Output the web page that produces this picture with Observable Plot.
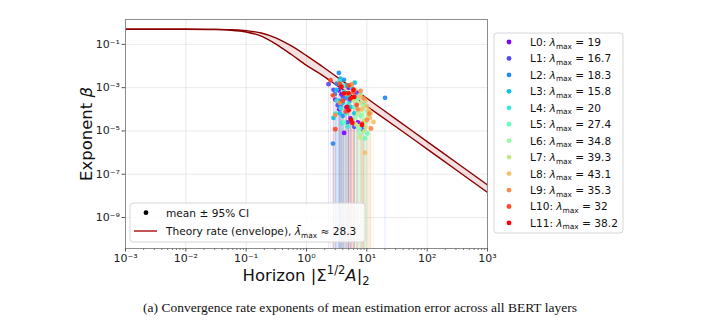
<!DOCTYPE html>
<html><head><meta charset="utf-8">
<script src="https://cdn.jsdelivr.net/npm/d3@7"></script>
<script src="https://cdn.jsdelivr.net/npm/@observablehq/plot@0.6"></script>
<style>
body{margin:0;background:#fff;width:720px;}
#chart{width:720px;height:290px;}
#caption{font-family:"Liberation Serif","Times New Roman",serif;font-size:13.5px;text-align:center;margin-top:10px;color:#111;line-height:16px;}
</style></head><body>
<div id="chart"></div>
<div id="caption">(a) Convergence rate exponents of mean estimation error across all BERT layers</div>
<script>
// ---- data ----
const layerNames = ["L0","L1","L2","L3","L4","L5","L6","L7","L8","L9","L10","L11"];
const layerLambda = [19, 16.7, 18.3, 15.8, 20, 27.4, 34.8, 39.3, 43.1, 35.3, 32, 38.2];
const layerColors = ["#8000ff","#5148fc","#238af5","#0cc1e8","#3ae8d7","#68fcc1","#97fca7","#c5e88a","#f3c16a","#ff8a48","#ff4824","#ff0000"];
const lambdaBar = 28.3;

const theoryHorizon = [1e-3, 3.16e-3, 1e-2, 3.16e-2, 5.62e-2, 0.1, 0.178, 0.316, 0.562, 1, 1.78, 3.16, 5.62, 10, 31.6, 100, 316, 1000];
const theoryUpper  = [0.5, 0.5, 0.499, 0.492, 0.476, 0.432, 0.336, 0.196, 0.0847, 0.0303, 0.0100, 3.21e-3, 1.02e-3, 3.23e-4, 3.23e-5, 3.23e-6, 3.23e-7, 3.23e-8];
const theoryLower  = [0.5, 0.5, 0.498, 0.483, 0.451, 0.372, 0.239, 0.100, 0.0339, 0.0107, 3.89e-3, 1.29e-3, 4.27e-4, 1.38e-4, 1.45e-5, 1.45e-6, 1.45e-7, 1.45e-8];

const layerHorizon = [
  [3.0,4.2,5.4,8.7,3.4,3.8,4.6,5.0,3.5,7.1],
  [2.32,6.76,6.2,3.3,2.8,4.0,4.8,3.7,8.9,5.2],
  [3.44,4.17,3.16,20,3.55,2.75,3.68,2.95,4.47,4.0],
  [3.68,6.3,6.2,3.55,3.16,5.0,4.0,2.8,4.5,5.4],
  [3.9,4.47,3.16,3.55,4.17,5.0,3.0,5.6,4.8,3.7],
  [9.3,10.2,7.1,7.9,4.17,6.3,8.9,5.0,7.6,4.0],
  [7.7,7.7,8.3,6.8,8.9,9.5,6.3,7.9,10,7.2],
  [7.7,8.9,9.5,7.1,7.9,10.5,6.6,8.5,6.0,9.1],
  [10.7,11.5,12.9,9.3,9.5,10,7.6,11.2,8.3,6.3],
  [11.7,3.0,5.6,8.9,10,4.47,7.1,3.55,7.9,11],
  [3.55,2.75,3.0,8.3,2.5,5.0,4.0,6.0,4.47,6.8],
  [4.17,5.0,5.4,6.2,4.73,5.0,5.5,5.75,6.0,3.8,8.3]
];
const layerBeta = [
  [2.8e-4,8.1e-6,3.8e-5,1.2e-5,7.6e-4,5.0e-4,1.26e-4,1.0e-3,1.0e-4,2.5e-5],
  [1.45e-3,5.9e-4,1.55e-5,1.55e-4,7.9e-4,4.0e-4,2.5e-5,1.1e-3,1.35e-5,2.5e-4],
  [4.8e-3,2.3e-3,1.55e-3,3.4e-4,2.45e-4,2.6e-6,1.3e-4,5e-4,3.2e-4,5e-5],
  [2.6e-3,1.7e-3,6.5e-5,6.5e-5,7.9e-4,4e-4,2e-4,4e-5,1.26e-3,1.26e-4],
  [2.35e-5,6.5e-5,2.5e-4,2.0e-3,6.3e-4,1.8e-4,6.3e-5,1e-3,1.6e-5,1.1e-4],
  [4.5e-6,7.6e-6,3.2e-4,5e-5,2.5e-5,1.26e-4,1.6e-4,5e-4,1.26e-5,1.26e-3],
  [9e-5,7.6e-6,5.4e-5,2.5e-4,1.4e-4,2.5e-5,4e-5,5e-4,7.9e-5,1.6e-5],
  [5e-6,3.2e-5,1.55e-5,6.3e-5,2e-4,5e-5,2e-5,1.1e-4,2.5e-4,1e-5],
  [9e-5,6.5e-5,2.6e-5,9.8e-7,2.5e-4,1.4e-4,4e-4,4e-5,1e-4,7.9e-4],
  [1.3e-5,5.4e-5,1.4e-3,3.2e-4,3.2e-5,5e-4,1e-4,2e-4,7e-4,6.3e-5],
  [1.55e-3,4.4e-4,1.2e-5,2.2e-5,2.2e-3,1.26e-3,2.5e-4,6.3e-4,7.9e-5,1.6e-4],
  [5.5e-4,5.5e-4,3.2e-4,3.7e-4,1.3e-4,9e-5,3.2e-5,2.35e-5,8.1e-4,1.1e-3,1.9e-5]
];

const xTicks = [1e-3, 1e-2, 1e-1, 1, 10, 100, 1000];
const xTickLabels = ["10\u207B\u00B3","10\u207B\u00B2","10\u207B\u00B9","10\u2070","10\u00B9","10\u00B2","10\u00B3"];
const yTicks = [1e-9, 1e-7, 1e-5, 1e-3, 1e-1];
const yTickLabels = ["10\u207B\u2079","10\u207B\u2077","10\u207B\u2075","10\u207B\u00B3","10\u207B\u00B9"];

// ---- build tables ----
const theory = theoryHorizon.map((h, i) => ({h, hi: theoryUpper[i], lo: theoryLower[i]}));
const points = [];
layerHorizon.forEach((hs, li) => hs.forEach((h, j) => points.push({h, b: layerBeta[li][j], c: layerColors[li]})));
const xMinor = [];
for (let e = -3; e < 3; e++) for (let m = 2; m <= 9; m++) xMinor.push(m * Math.pow(10, e));
const xFmt = new Map(xTicks.map((t, i) => [t, xTickLabels[i]]));
const yFmt = new Map(yTicks.map((t, i) => [t, yTickLabels[i]]));

const yMin = 3.7e-11, yMax = 1.41;
const W = 720, H = 290, mL = 125, mR = 233, mT = 19, mB = 42;

const plot = Plot.plot({
  width: W, height: H, marginLeft: mL, marginRight: mR, marginTop: mT, marginBottom: mB,
  x: {type: "log", domain: [1e-3, 1e3]},
  y: {type: "log", domain: [yMin, yMax]},
  color: {type: "identity"},
  style: {fontFamily: "DejaVu Sans", fontSize: "11px", color: "#222", background: "white", overflow: "visible"},
  marks: [
    Plot.gridX(xTicks, {stroke: "#e4e4e4", strokeOpacity: 1, strokeWidth: 0.8}),
    Plot.gridY(yTicks, {stroke: "#e4e4e4", strokeOpacity: 1, strokeWidth: 0.8}),
    Plot.ruleX(points, {x: "h", y1: yMin, y2: "b", stroke: "c", strokeOpacity: 0.14, strokeWidth: 1, clip: true}),
    Plot.areaY(theory, {x: "h", y1: "lo", y2: "hi", fill: "#a01010", fillOpacity: 0.13, curve: "monotone-x", clip: true}),
    Plot.line(theory, {x: "h", y: "hi", stroke: "#8b0000", strokeWidth: 1.4, curve: "monotone-x", clip: true}),
    Plot.line(theory, {x: "h", y: "lo", stroke: "#8b0000", strokeWidth: 1.4, curve: "monotone-x", clip: true}),
    Plot.dot(points, {x: "h", y: "b", r: 2.4, fill: "c", fillOpacity: 0.92, stroke: null}),
    Plot.frame({stroke: "#8c8c8c", strokeWidth: 1}),
    Plot.axisX(xTicks, {tickFormat: d => xFmt.get(d), tickSize: 3.5, tickPadding: 2.5, label: null, stroke: "#555"}),
    Plot.axisX(xMinor, {tickFormat: () => "", tickSize: 2, label: null, stroke: "#777"}),
    Plot.axisY(yTicks, {tickFormat: d => yFmt.get(d), tickSize: 3.5, tickPadding: 2, label: null, stroke: "#555"})
  ]
});
document.getElementById("chart").appendChild(plot);

// ---- labels & legends ----
const svg = d3.select(plot);
const font = "DejaVu Sans";

// y label
const yl = svg.append("text").attr("transform", "translate(92,134) rotate(-90)")
  .attr("text-anchor", "middle").attr("font-family", font).attr("font-size", 16.5).attr("fill", "#111");
yl.append("tspan").text("Exponent ");
yl.append("tspan").attr("font-style", "italic").text("\u03B2");

// x label
const xl = svg.append("text").attr("x", (mL + (W - mR)) / 2).attr("y", 281)
  .attr("text-anchor", "middle").attr("font-family", font).attr("font-size", 16.5).attr("fill", "#111");
xl.append("tspan").text("Horizon |\u03A3");
xl.append("tspan").attr("font-size", 11.5).attr("dy", -7).text("1/2");
xl.append("tspan").attr("font-style", "italic").attr("dy", 7).text("A");
xl.append("tspan").text("|");
xl.append("tspan").attr("font-size", 11.5).attr("dy", 4).text("2");

// right legend
const lg = svg.append("g").attr("font-family", font).attr("font-size", 10.6).attr("fill", "#111").attr("text-anchor", "start");
lg.append("rect").attr("x", 494).attr("y", 33).attr("width", 129).attr("height", 200)
  .attr("rx", 3).attr("fill", "white").attr("stroke", "#d6d6d6");
layerNames.forEach((n, i) => {
  const cy = 42 + i * 16.45;
  lg.append("circle").attr("cx", 509).attr("cy", cy).attr("r", 2.4).attr("fill", layerColors[i]);
  const t = lg.append("text").attr("x", 530).attr("y", cy + 3.9).attr("text-anchor", "start");
  t.append("tspan").text(n + ": ");
  t.append("tspan").attr("font-style", "italic").text("\u03BB");
  t.append("tspan").attr("font-size", 7.4).attr("dy", 2.6).text("max");
  t.append("tspan").attr("dy", -2.6).text(" = " + layerLambda[i]);
});

// left legend
const ll = svg.append("g").attr("font-family", font).attr("font-size", 10.6).attr("fill", "#111").attr("text-anchor", "start");
ll.append("rect").attr("x", 130).attr("y", 203).attr("width", 235).attr("height", 39)
  .attr("rx", 3).attr("fill", "white").attr("fill-opacity", 0.82).attr("stroke", "#d6d6d6");
ll.append("circle").attr("cx", 146).attr("cy", 212.7).attr("r", 2.4).attr("fill", "black");
ll.append("text").attr("x", 166).attr("y", 216.6).attr("text-anchor", "start").text("mean \u00B1 95% CI");
ll.append("line").attr("x1", 134).attr("x2", 157).attr("y1", 231).attr("y2", 231)
  .attr("stroke", "#b01c1c").attr("stroke-width", 1.5);
const t2 = ll.append("text").attr("x", 166).attr("y", 234.9).attr("text-anchor", "start");
t2.append("tspan").text("Theory rate (envelope), ");
t2.append("tspan").attr("font-style", "italic").text("\u03BB\u0304");
t2.append("tspan").attr("font-size", 7.4).attr("dy", 2.6).text("max");
t2.append("tspan").attr("dy", -2.6).text(" \u2248 " + lambdaBar);
</script>
</body></html>
